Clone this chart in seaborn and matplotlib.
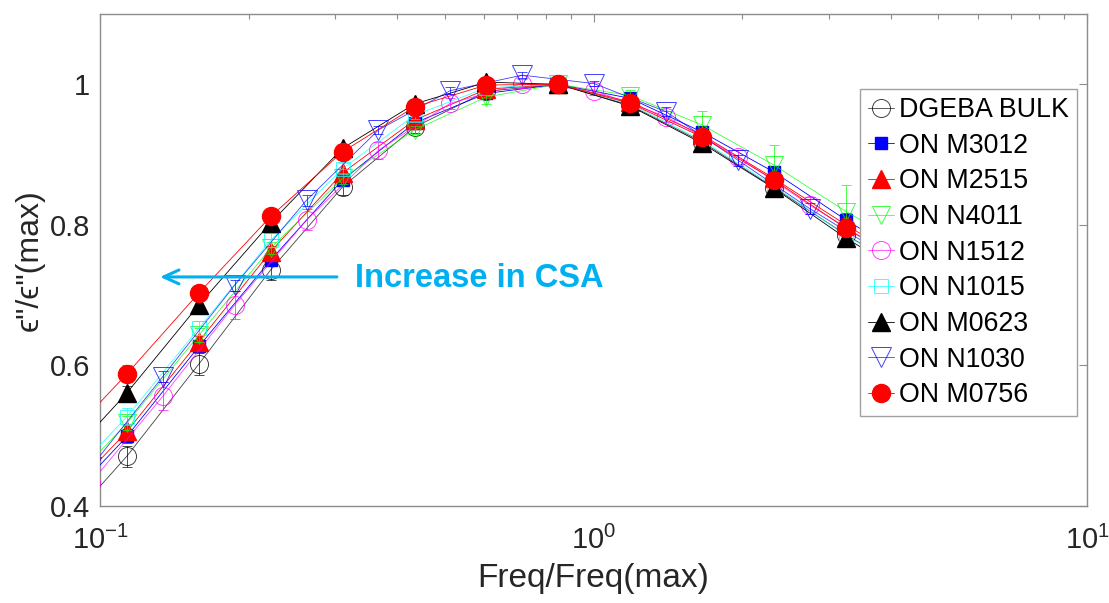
import matplotlib
matplotlib.use("Agg")
import matplotlib.pyplot as plt
import seaborn as sns
import numpy as np

# ---------------- data ----------------
freq_main = [0.081, 0.1134, 0.1586, 0.2218, 0.3102, 0.4339, 0.6069, 0.8488, 1.187, 1.660, 2.322, 3.248, 4.54]
freq_mid = [0.0958, 0.1340, 0.1874, 0.2621, 0.3666, 0.5127, 0.7171, 1.003, 1.403, 1.962, 2.744, 3.838]

dgeba_bulk = [0.356, 0.471, 0.602, 0.736, 0.854, 0.939, 0.990, 1.000, 0.970, 0.918, 0.853, 0.786, 0.725]
on_m3012 = [0.390, 0.499, 0.627, 0.750, 0.864, 0.945, 0.987, 1.000, 0.980, 0.932, 0.875, 0.807, 0.745]
on_m2515 = [0.398, 0.506, 0.634, 0.762, 0.874, 0.949, 0.993, 1.000, 0.975, 0.928, 0.866, 0.800, 0.738]
on_n4011 = [0.410, 0.518, 0.643, 0.767, 0.866, 0.935, 0.982, 1.000, 0.984, 0.942, 0.885, 0.819, 0.760]
on_n1512 = [0.433, 0.556, 0.686, 0.807, 0.906, 0.973, 1.001, 0.991, 0.954, 0.897, 0.828, 0.765]
on_n1015 = [0.419, 0.527, 0.653, 0.778, 0.880, 0.956, 0.995, 1.000, 0.972, 0.920, 0.855, 0.785, 0.725]
on_m0623 = [0.449, 0.561, 0.686, 0.803, 0.909, 0.972, 1.003, 1.000, 0.969, 0.916, 0.852, 0.781, 0.720]
on_n1030 = [0.455, 0.584, 0.714, 0.835, 0.935, 0.991, 1.013, 1.001, 0.961, 0.892, 0.823, 0.760]
on_m0756 = [0.479, 0.588, 0.703, 0.812, 0.904, 0.968, 0.999, 1.000, 0.973, 0.925, 0.864, 0.795, 0.735]

err_dgeba = [0.015, 0.015, 0.015, 0.015, 0.012, 0.008, 0.005, 0.0, 0.005, 0.008, 0.010, 0.010, 0.010]
err_m3012 = [0.010, 0.010, 0.008, 0.008, 0.006, 0.005, 0.003, 0.0, 0.004, 0.006, 0.008, 0.010, 0.010]
err_m2515 = [0.010, 0.010, 0.008, 0.008, 0.006, 0.005, 0.003, 0.0, 0.004, 0.006, 0.008, 0.010, 0.010]
err_n4011 = [0.010, 0.010, 0.010, 0.008, 0.008, 0.006, 0.010, 0.0, 0.008, 0.020, 0.028, 0.038, 0.040]
err_n1512 = [0.020, 0.020, 0.020, 0.015, 0.012, 0.008, 0.006, 0.006, 0.008, 0.010, 0.012, 0.012]
err_n1015 = [0.012, 0.012, 0.010, 0.010, 0.008, 0.006, 0.004, 0.0, 0.004, 0.006, 0.008, 0.010, 0.010]
err_m0623 = [0.010, 0.010, 0.010, 0.008, 0.006, 0.005, 0.003, 0.0, 0.004, 0.006, 0.008, 0.010, 0.010]
err_n1030 = [0.008, 0.008, 0.008, 0.008, 0.006, 0.005, 0.004, 0.004, 0.006, 0.008, 0.008, 0.008]
err_m0756 = [0.012, 0.012, 0.010, 0.008, 0.006, 0.005, 0.003, 0.0, 0.004, 0.006, 0.008, 0.010, 0.010]

labels = ["DGEBA BULK", "ON M3012", "ON M2515", "ON N4011", "ON N1512",
          "ON N1015", "ON M0623", "ON N1030", "ON M0756"]

series = [
    (labels[0], freq_main, dgeba_bulk, err_dgeba, "#000000", "o", 13, "none"),
    (labels[1], freq_main, on_m3012, err_m3012, "#0000FF", "s", 8.5, "#0000FF"),
    (labels[2], freq_main, on_m2515, err_m2515, "#FF0000", "^", 13, "#FF0000"),
    (labels[3], freq_main, on_n4011, err_n4011, "#00FF00", "v", 13, "none"),
    (labels[4], freq_mid, on_n1512, err_n1512, "#FF00FF", "o", 13, "none"),
    (labels[5], freq_main, on_n1015, err_n1015, "#00FFFF", "s", 10, "none"),
    (labels[6], freq_main, on_m0623, err_m0623, "#000000", "^", 13, "#000000"),
    (labels[7], freq_mid, on_n1030, err_n1030, "#0000FF", "v", 14, "none"),
    (labels[8], freq_main, on_m0756, err_m0756, "#FF0000", "o", 13, "#FF0000"),
]

# ---------------- style ----------------
sns.set_theme(style="white")
plt.rcParams["font.family"] = ["Liberation Sans", "DejaVu Sans"]
plt.rcParams["axes.unicode_minus"] = False
plt.rcParams["mathtext.default"] = "regular"

fig = plt.figure(figsize=(11.09, 6.03), dpi=100)
ax = fig.add_axes([100 / 1109, 1 - 506 / 603, 987 / 1109, 492 / 603])
ax.set_xscale("log")

for i, (lab, fx, fy, fe, col, mk, ms, mfc) in enumerate(series):
    is_open = mfc == "none"
    ax.errorbar(fx, fy, yerr=fe, fmt="none", ecolor=col, elinewidth=0.7,
                capsize=3.5, capthick=0.7, alpha=0.7, zorder=2 + i)
    sns.lineplot(x=fx, y=fy, ax=ax, color=col, lw=0.6, alpha=1.0,
                 marker=mk, markersize=ms, markerfacecolor=mfc,
                 markeredgecolor=col,
                 markeredgewidth=0.7 if is_open else 1.0,
                 label=lab, errorbar=None, zorder=3 + i, sort=True)
    ax.lines[-1].set_alpha(0.75 if is_open else 1.0)

ax.set_xlim(0.1, 10)
ax.set_ylim(0.4, 1.1)
ax.set_yticks([0.4, 0.6, 0.8, 1.0])
ax.set_yticklabels(["0.4", "0.6", "0.8", "1"])

for sp in ax.spines.values():
    sp.set_color("#8c8c8c")
    sp.set_linewidth(1.0)
    sp.set_visible(True)

ax.tick_params(axis="both", which="both", direction="in", top=True, right=True,
               color="#8c8c8c", labelcolor="#262626", labelsize=21)
ax.tick_params(axis="both", which="major", length=6, width=0.8)
ax.tick_params(axis="both", which="minor", length=3.5, width=0.8)
ax.tick_params(axis="x", which="major", pad=14)
ax.tick_params(axis="y", which="major", pad=7)

ax.set_xlabel("Freq/Freq(max)", fontsize=24, color="#262626", labelpad=6)
ax.set_ylabel("\u03f5\"/\u03f5\"(max)", fontsize=23, color="#262626", labelpad=4)

# annotation
ax.annotate("", xy=(0.1323, 0.7259), xytext=(0.302, 0.7259),
            arrowprops=dict(arrowstyle="->,head_length=0.55,head_width=0.25",
                            color="#00B0F0", lw=2.2, mutation_scale=20,
                            shrinkA=0, shrinkB=0), zorder=20)
ax.text(0.3286, 0.7116, "Increase in CSA", color="#00B0F0", fontsize=23.5,
        fontweight="bold", va="baseline", ha="left", zorder=20)

leg = ax.legend(loc="upper right", bbox_to_anchor=(0.990, 0.8476),
                fontsize=19.3, frameon=True, fancybox=False, framealpha=1,
                edgecolor="#a0a0a0", borderpad=0.3, labelspacing=0.36,
                handlelength=0.95, handletextpad=0.2, borderaxespad=0,
                numpoints=1)
leg.get_frame().set_linewidth(1.0)
leg.set_zorder(30)
for t in leg.get_texts():
    t.set_color("#000000")

fig.savefig("out.png", dpi=100)
